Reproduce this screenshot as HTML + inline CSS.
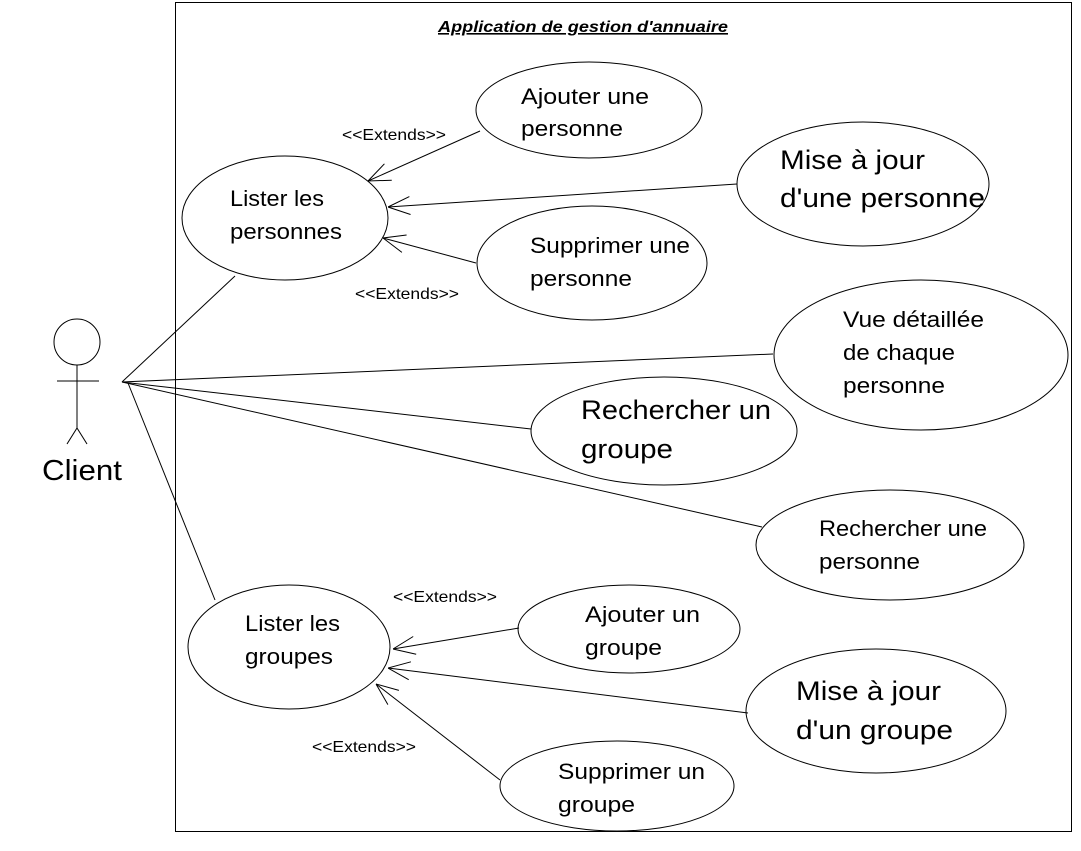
<!DOCTYPE html>
<html><head><meta charset="utf-8"><style>
html,body{margin:0;padding:0;background:#fff;}
svg{display:block;}
text{font-family:"Liberation Sans","DejaVu Sans",sans-serif;fill:#000;}
</style></head><body>
<svg width="1081" height="851" viewBox="0 0 1081 851" xmlns="http://www.w3.org/2000/svg">
<defs>
<marker id="a" markerWidth="24" markerHeight="24" refX="0" refY="12" orient="auto" markerUnits="userSpaceOnUse">
<path d="M22,3 L0,12 L22,21" fill="none" stroke="#000" stroke-width="1"/>
</marker>
</defs>
<rect x="175.5" y="2.5" width="896" height="829" fill="none" stroke="#000" stroke-width="1"/>
<text x="438" y="32" font-size="16" font-weight="bold" font-style="italic" textLength="290" lengthAdjust="spacingAndGlyphs" text-decoration="underline">Application de gestion d'annuaire</text>
<g stroke="#000" stroke-width="1" fill="none">
<circle cx="77" cy="342" r="23"/>
<line x1="77" y1="365" x2="77" y2="428"/>
<line x1="57" y1="381" x2="99" y2="381"/>
<line x1="77" y1="428" x2="67" y2="444"/>
<line x1="77" y1="428" x2="87" y2="444"/>
<line x1="122" y1="382" x2="235" y2="276"/>
<line x1="122" y1="382" x2="773" y2="354"/>
<line x1="122" y1="382" x2="531" y2="429"/>
<line x1="122" y1="382" x2="762" y2="527"/>
<line x1="128" y1="383" x2="215" y2="600"/>
<ellipse cx="285" cy="218" rx="103" ry="62"/>
<ellipse cx="589" cy="110" rx="113" ry="48"/>
<ellipse cx="863" cy="184" rx="126" ry="62"/>
<ellipse cx="592" cy="263" rx="115" ry="57"/>
<ellipse cx="921" cy="355" rx="147" ry="75"/>
<ellipse cx="664" cy="431" rx="133" ry="54"/>
<ellipse cx="890" cy="545" rx="134" ry="55"/>
<ellipse cx="289" cy="647" rx="101" ry="62"/>
<ellipse cx="629" cy="629" rx="111" ry="44"/>
<ellipse cx="876" cy="711" rx="130" ry="62"/>
<ellipse cx="617" cy="786" rx="117" ry="45"/>
<line x1="368" y1="181" x2="480" y2="131" marker-start="url(#a)"/>
<line x1="388" y1="207" x2="737" y2="184" marker-start="url(#a)"/>
<line x1="383" y1="238" x2="476" y2="263" marker-start="url(#a)"/>
<line x1="393" y1="649" x2="519" y2="628" marker-start="url(#a)"/>
<line x1="388" y1="668" x2="748" y2="713" marker-start="url(#a)"/>
<line x1="376" y1="684" x2="500" y2="780" marker-start="url(#a)"/>
</g>
<text x="42" y="480" font-size="29" textLength="80" lengthAdjust="spacingAndGlyphs">Client</text>
<g font-size="16">
<text x="342" y="140" textLength="104" lengthAdjust="spacingAndGlyphs">&lt;&lt;Extends&gt;&gt;</text>
<text x="355" y="299" textLength="104" lengthAdjust="spacingAndGlyphs">&lt;&lt;Extends&gt;&gt;</text>
<text x="393" y="602" textLength="104" lengthAdjust="spacingAndGlyphs">&lt;&lt;Extends&gt;&gt;</text>
<text x="312" y="752" textLength="104" lengthAdjust="spacingAndGlyphs">&lt;&lt;Extends&gt;&gt;</text>
</g>
<g font-size="22" lengthAdjust="spacingAndGlyphs">
<text x="230" y="206" textLength="94" lengthAdjust="spacingAndGlyphs">Lister les</text><text x="230" y="239" textLength="112" lengthAdjust="spacingAndGlyphs">personnes</text>
<text x="521" y="104" textLength="128" lengthAdjust="spacingAndGlyphs">Ajouter une</text><text x="521" y="136" textLength="102" lengthAdjust="spacingAndGlyphs">personne</text>
<text x="530" y="253" textLength="160" lengthAdjust="spacingAndGlyphs">Supprimer une</text><text x="530" y="286" textLength="102" lengthAdjust="spacingAndGlyphs">personne</text>
<text x="843" y="327" textLength="141" lengthAdjust="spacingAndGlyphs">Vue détaillée</text><text x="843" y="360" textLength="112" lengthAdjust="spacingAndGlyphs">de chaque</text><text x="843" y="393" textLength="102" lengthAdjust="spacingAndGlyphs">personne</text>
<text x="819" y="536" textLength="168" lengthAdjust="spacingAndGlyphs">Rechercher une</text><text x="819" y="569" textLength="101" lengthAdjust="spacingAndGlyphs">personne</text>
<text x="245" y="631" textLength="95" lengthAdjust="spacingAndGlyphs">Lister les</text><text x="245" y="664" textLength="88" lengthAdjust="spacingAndGlyphs">groupes</text>
<text x="585" y="622" textLength="115" lengthAdjust="spacingAndGlyphs">Ajouter un</text><text x="585" y="655" textLength="77" lengthAdjust="spacingAndGlyphs">groupe</text>
<text x="558" y="779" textLength="147" lengthAdjust="spacingAndGlyphs">Supprimer un</text><text x="558" y="812" textLength="77" lengthAdjust="spacingAndGlyphs">groupe</text>
</g>
<g font-size="27">
<text x="780" y="169" textLength="145" lengthAdjust="spacingAndGlyphs">Mise à jour</text><text x="780" y="207" textLength="205" lengthAdjust="spacingAndGlyphs">d'une personne</text>
<text x="581" y="419" textLength="190" lengthAdjust="spacingAndGlyphs">Rechercher un</text><text x="581" y="458" textLength="92" lengthAdjust="spacingAndGlyphs">groupe</text>
<text x="796" y="700" textLength="145" lengthAdjust="spacingAndGlyphs">Mise à jour</text><text x="796" y="739" textLength="157" lengthAdjust="spacingAndGlyphs">d'un groupe</text>
</g>
</svg>
</body></html>
